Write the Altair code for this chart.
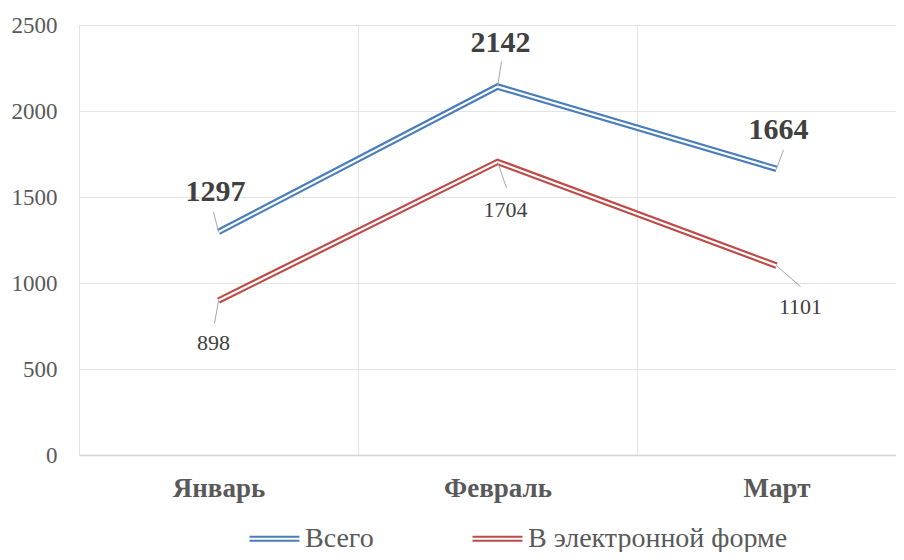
import altair as alt
import pandas as pd

months = ["Январь", "Февраль", "Март"]
series_names = ["Всего", "В электронной форме"]
total = [1297, 2142, 1664]
electronic = [898, 1704, 1101]
y_ticks = [0, 500, 1000, 1500, 2000, 2500]

colors = ["#4A7EBB", "#BE4B48"]

rows = []
for m, v in zip(months, total):
    rows.append({"month": m, "series": series_names[0], "value": v})
for m, v in zip(months, electronic):
    rows.append({"month": m, "series": series_names[1], "value": v})
df = pd.DataFrame(rows)

# style: label offsets (text dx, dy) and leader line end offsets (px)
label_style = {
    (series_names[0], "Январь"): ((-3, -40), (-5, -20)),
    (series_names[0], "Февраль"): ((3, -44), (4, -25)),
    (series_names[0], "Март"): ((2, -39), (7, -19)),
    (series_names[1], "Январь"): ((-5, 42), (-4, 23)),
    (series_names[1], "Февраль"): ((8, 48), (9, 26)),
    (series_names[1], "Март"): ((24, 41), (24, 21)),
}

FONT = "Liberation Serif"
GRID = "#e3e3e3"

x_enc = alt.X(
    "month:N",
    sort=months,
    scale=alt.Scale(type="band", domain=months, range=[0, 837], paddingInner=0, paddingOuter=0),
    axis=alt.Axis(
        title=None, labelAngle=0, labelFont=FONT, labelFontSize=27, labelFontWeight="bold",
        labelColor="#595959", labelPadding=20, ticks=False, domainColor="#d4d4d4",
        domainWidth=1.5, grid=True, gridColor=GRID, tickBand="extent",
    ),
)
y_enc = alt.Y(
    "value:Q",
    scale=alt.Scale(domain=[0, 2500], nice=False),
    axis=alt.Axis(
        title=None, values=y_ticks, format="d", labelFont=FONT, labelFontSize=23,
        labelColor="#595959", labelPadding=22, ticks=False, domain=False, grid=True,
        gridColor=GRID,
    ),
)

base = alt.Chart(df)

outer = base.mark_line(strokeWidth=6.5, strokeJoin="miter").encode(
    x=x_enc,
    y=y_enc,
    color=alt.Color(
        "series:N",
        scale=alt.Scale(domain=series_names, range=colors),
        legend=alt.Legend(
            title=None, orient="none", legendX=169, legendY=487, direction="horizontal",
            symbolType="M-1,-0.08H1M-1,0.08H1", symbolSize=2500, symbolStrokeWidth=2.2,
            labelFont=FONT, labelFontSize=28, labelColor="#595959", labelOffset=4,
            columnPadding=94, padding=0, labelLimit=400,
        ),
    ),
)
inner = base.mark_line(strokeWidth=2.2, color="white", strokeJoin="miter").encode(
    x=x_enc, y=y_enc, detail="series:N"
)

layers = [outer, inner]
for (s, m), ((tdx, tdy), (ldx, ldy)) in label_style.items():
    sub = base.transform_filter((alt.datum.series == s) & (alt.datum.month == m))
    is_total = s == series_names[0]
    layers.append(
        sub.mark_rule(color="#a6a6a6", strokeWidth=1, x2Offset=ldx, y2Offset=ldy).encode(
            x=x_enc, y=y_enc, x2="month:N", y2="value:Q"
        )
    )
    layers.append(
        sub.mark_text(
            dx=tdx, dy=tdy, font=FONT, fontSize=30 if is_total else 22,
            fontWeight="bold" if is_total else "normal", color="#404040",
            align="center", baseline="middle",
        ).encode(x=x_enc, y=y_enc, text="value:Q")
    )

chart = alt.layer(*layers).properties(
    width=817,
    height=430,
    padding={"left": 71, "top": 17, "right": 0, "bottom": 97},
    autosize=alt.AutoSizeParams(type="none"),
    background="white",
).configure_view(stroke=None).configure_legend(labelFont=FONT).configure(font=FONT)

chart.save("out.html", embed_options={"renderer": "svg", "actions": False})
